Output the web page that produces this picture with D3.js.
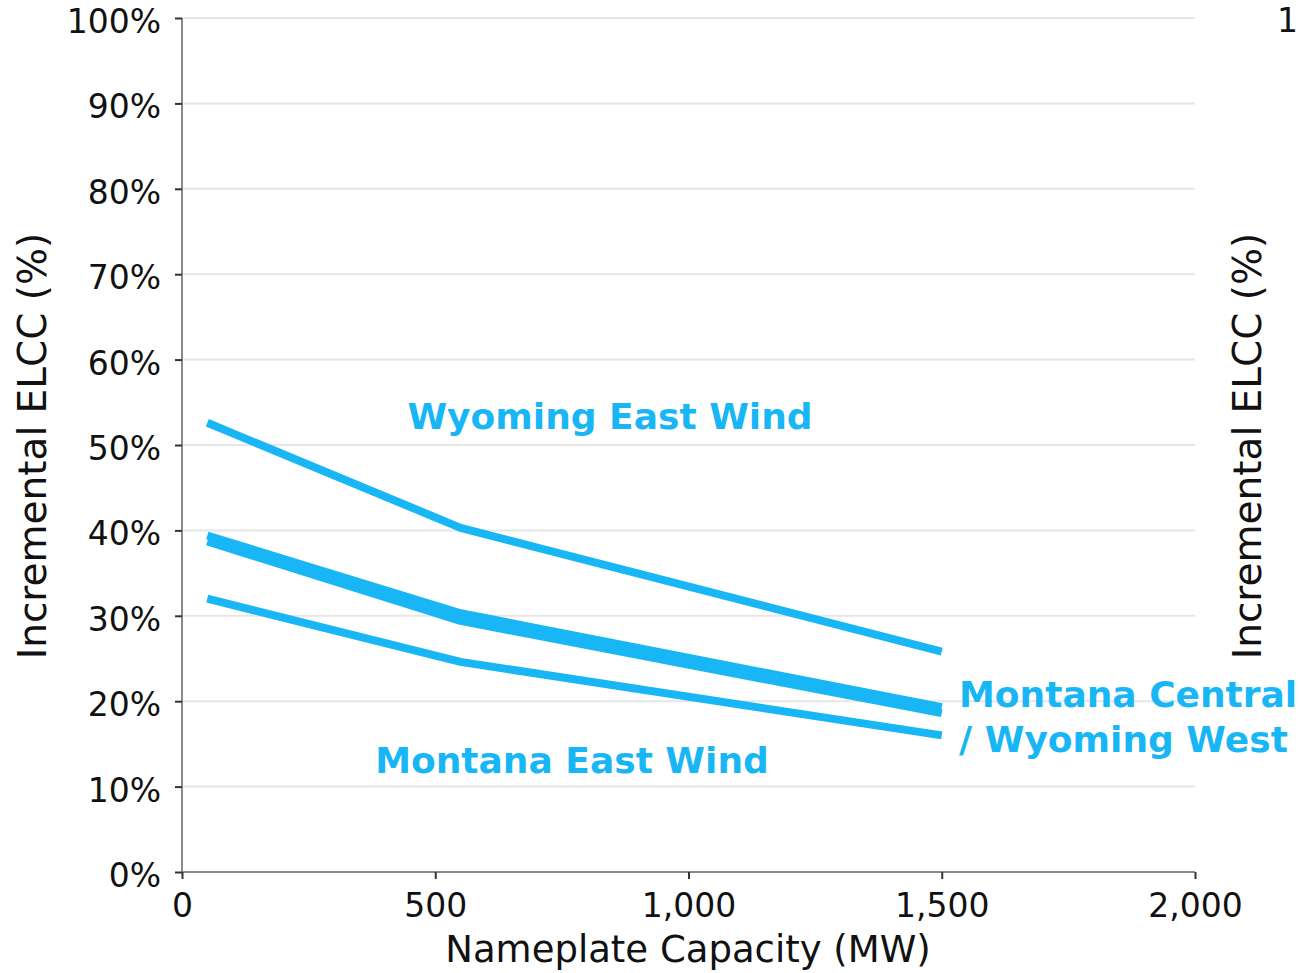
<!DOCTYPE html>
<html><head><meta charset="utf-8">
<script src="https://cdn.jsdelivr.net/npm/d3@7"></script>
<style>body{margin:0;background:#fff}svg{display:block}</style>
</head><body>
<script>
const capacityMW = [50, 550, 1500];
const wyomingEast = [52.6, 40.3, 25.8];
const montanaCentral = [39.4, 30.3, 19.3];
const wyomingWest = [38.7, 29.4, 18.6];
const montanaEast = [32.0, 24.6, 16.0];
const seriesNames = ["Wyoming East Wind", "Montana Central", "Wyoming West", "Montana East Wind"];
const xTicks = [0, 500, 1000, 1500, 2000];
const yTicks = [0,10,20,30,40,50,60,70,80,90,100];

const W = 1299, H = 973;
const svg = d3.select("body").append("svg").attr("width", W).attr("height", H);
const x = d3.scaleLinear().domain([0, 2000]).range([182, 1195]);
const y = d3.scaleLinear().domain([0, 100]).range([872, 18]);
const font = "DejaVu Sans, sans-serif";
const blue = "#19b6f6";

// gridlines
svg.append("g").selectAll("line").data(yTicks.slice(1)).join("line")
  .attr("x1", x(0)).attr("x2", x(2000))
  .attr("y1", d => y(d)).attr("y2", d => y(d))
  .attr("stroke", "#e6e6e6").attr("stroke-width", 2);

// axes
const yAxis = d3.axisLeft(y).tickValues(yTicks).tickFormat(d => d + "%").tickSize(7).tickPadding(14);
const gy = svg.append("g").attr("transform", `translate(${x(0)},0)`).call(yAxis);
const xAxis = d3.axisBottom(x).tickValues(xTicks).tickFormat(d3.format(",")).tickSize(7).tickPadding(15);
const gx = svg.append("g").attr("transform", `translate(0,${y(0)})`).call(xAxis);
[gx, gy].forEach(g => {
  g.select(".domain").attr("stroke", "#8a8a8a").attr("stroke-width", 2);
  g.selectAll(".tick line").attr("stroke", "#333").attr("stroke-width", 2);
  g.selectAll(".tick text").attr("font-family", font).attr("font-size", 33).attr("fill", "#111");
});
gy.selectAll(".tick text").attr("dy", "0.44em");
gx.select(".domain").attr("d", `M${x(0)},0H${x(2000)}`);
gy.select(".domain").attr("d", `M0,${y(0)}V${y(100)}`);

// lines
const line = d3.line().x((d, i) => x(capacityMW[i])).y(d => y(d));
[wyomingEast, montanaCentral, wyomingWest, montanaEast].forEach(s => {
  svg.append("path").datum(s).attr("d", line).attr("fill", "none")
    .attr("stroke", blue).attr("stroke-width", 8).attr("stroke-linejoin", "round");
});

// axis titles
svg.append("text").attr("x", 688).attr("y", 962).attr("text-anchor", "middle")
  .attr("font-family", font).attr("font-size", 37).attr("fill", "#111").text("Nameplate Capacity (MW)");
svg.append("text").attr("transform", `translate(46,446) rotate(-90)`).attr("text-anchor", "middle")
  .attr("font-family", font).attr("font-size", 39).attr("fill", "#111").text("Incremental ELCC (%)");
svg.append("text").attr("transform", `translate(1261,446) rotate(-90)`).attr("text-anchor", "middle")
  .attr("font-family", font).attr("font-size", 39).attr("fill", "#111").text("Incremental ELCC (%)");
svg.append("text").attr("x", 1277).attr("y", 32).attr("font-family", font).attr("font-size", 33).attr("fill", "#111").text("1");

// annotations
const ann = svg.append("g").attr("font-family", "DejaVu Sans, Verdana, sans-serif").attr("font-weight", "bold")
  .attr("font-size", 36).attr("fill", blue);
ann.append("text").attr("x", 610).attr("y", 429).attr("text-anchor", "middle").text(seriesNames[0]);
ann.append("text").attr("x", 572).attr("y", 773).attr("text-anchor", "middle").text(seriesNames[3]);
ann.append("text").attr("x", 959).attr("y", 707).text(seriesNames[1]);
ann.append("text").attr("x", 959).attr("y", 752).text("/ " + seriesNames[2]);
</script>
</body></html>
